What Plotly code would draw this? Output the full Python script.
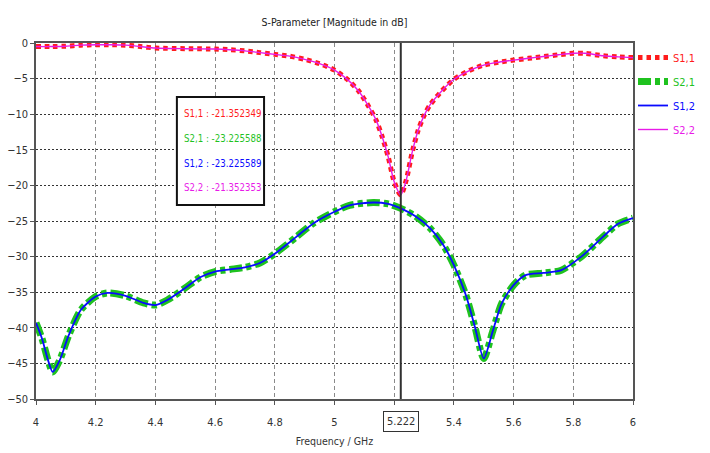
import plotly.graph_objects as go

# ---- data ----
f_s11 = [4.00, 4.05, 4.10, 4.15, 4.20, 4.25, 4.30, 4.35, 4.40, 4.50, 4.60, 4.65, 4.70, 4.75,
         4.80, 4.85, 4.90, 4.95, 5.00, 5.04, 5.08, 5.11, 5.14, 5.16, 5.18, 5.20, 5.222,
         5.24, 5.26, 5.28, 5.30, 5.32, 5.36, 5.40, 5.45, 5.50, 5.55, 5.60, 5.65, 5.70,
         5.75, 5.80, 5.84, 5.90, 5.95, 6.00]
s11_db = [-0.5, -0.5, -0.45, -0.3, -0.25, -0.25, -0.3, -0.5, -0.7, -0.8, -0.85, -0.95, -1.1, -1.35,
          -1.6, -1.85, -2.3, -2.9, -3.8, -5.0, -6.7, -8.6, -10.9, -13.2, -16.0, -19.5, -21.35,
          -19.3, -15.4, -12.3, -10.2, -8.7, -6.7, -5.1, -3.9, -3.1, -2.7, -2.4, -2.15, -1.9,
          -1.65, -1.45, -1.45, -1.8, -1.95, -2.05]
s22_db = s11_db

f_s21 = [4.00, 4.02, 4.04, 4.056, 4.08, 4.11, 4.15, 4.20, 4.24, 4.30, 4.36, 4.40, 4.44, 4.50,
         4.55, 4.60, 4.65, 4.70, 4.75, 4.80, 4.87, 4.93, 5.00, 5.05, 5.13, 5.18, 5.222, 5.27,
         5.32, 5.365, 5.40, 5.44, 5.47, 5.50, 5.53, 5.56, 5.60, 5.64, 5.70, 5.76, 5.83, 5.90,
         5.95, 6.00]
s21_db = [-39.3, -41.5, -44.5, -46.2, -44.5, -41.0, -37.5, -35.6, -35.1, -35.5, -36.5, -36.8, -36.1, -34.4,
          -32.9, -32.1, -31.8, -31.5, -30.9, -29.6, -27.3, -25.3, -23.7, -22.8, -22.4, -22.6, -23.23, -24.3,
          -26.0, -28.4, -31.2, -35.4, -39.8, -44.3, -40.5, -36.6, -34.0, -32.6, -32.3, -31.9, -29.9, -27.2,
          -25.4, -24.6]
s12_db = s21_db

marker_freq = 5.222
marker_labels = ["S1,1", "S2,1", "S1,2", "S2,2"]
marker_values = ["-21.352349", "-23.225588", "-23.225589", "-21.352353"]

x_ticks = [4, 4.2, 4.4, 4.6, 4.8, 5, 5.2, 5.4, 5.6, 5.8, 6]
x_ticktext = ["4", "4.2", "4.4", "4.6", "4.8", "5", "", "5.4", "5.6", "5.8", "6"]
y_ticks = [0, -5, -10, -15, -20, -25, -30, -35, -40, -45, -50]

RED = "#ff1c1c"
GREEN = "#1fc21f"
BLUE = "#0a0aff"
MAGENTA = "#e81ae8"
colors = [RED, GREEN, BLUE, MAGENTA]
FONT = "DejaVu Sans Condensed, DejaVu Sans, sans-serif"

fig = go.Figure()
fig.add_trace(go.Scatter(x=f_s11, y=s11_db, mode="lines", legendgroup="a",
                         name=f'<span style="color:{RED}">S1,1</span>',
                         line=dict(color=RED, width=5, dash="4.5px,4px", shape="spline", smoothing=0.7)))
fig.add_trace(go.Scatter(x=f_s21, y=s21_db, mode="lines", legendgroup="b",
                         name=f'<span style="color:{GREEN}">S2,1</span>',
                         line=dict(color=GREEN, width=7, dash="13px,4px,5px,4px", shape="spline", smoothing=0.7)))
fig.add_trace(go.Scatter(x=f_s21, y=s12_db, mode="lines", legendgroup="c",
                         name=f'<span style="color:{BLUE}">S1,2</span>',
                         line=dict(color=BLUE, width=1.8, shape="spline", smoothing=0.7)))
fig.add_trace(go.Scatter(x=f_s11, y=s22_db, mode="lines", legendgroup="d",
                         name=f'<span style="color:{MAGENTA}">S2,2</span>',
                         line=dict(color=MAGENTA, width=1.4, shape="spline", smoothing=0.7)))

# marker line
fig.add_shape(type="line", xref="x", yref="paper", x0=marker_freq, x1=marker_freq, y0=0, y1=1,
              line=dict(color="#303030", width=2))

# marker value box
fig.add_shape(type="rect", xref="paper", yref="paper", x0=0.236, x1=0.382, y0=0.545, y1=0.848,
              line=dict(color="#111111", width=2), fillcolor="white", layer="above")
ys = [0.8006, 0.7331, 0.6629, 0.5955]
for lab, val, c, yy in zip(marker_labels, marker_values, colors, ys):
    fig.add_annotation(xref="paper", yref="paper", x=0.2446, y=yy, xanchor="left", yanchor="middle",
                       text=f"{lab} : {val}", showarrow=False,
                       font=dict(family=FONT, size=9.6, color=c))

# boxed marker frequency tick label
fig.add_annotation(xref="x", yref="paper", x=marker_freq, y=-0.062, yanchor="middle",
                   text=f"{marker_freq:.3f}", showarrow=False, bgcolor="white",
                   bordercolor="#333333", borderwidth=1, borderpad=3,
                   font=dict(family=FONT, size=11, color="#333333"))

fig.update_layout(
    width=710, height=453,
    margin=dict(l=36, r=77, t=43, b=54, autoexpand=False),
    paper_bgcolor="white", plot_bgcolor="white",
    font=dict(family=FONT, size=11, color="#333333"),
    title=dict(text="S-Parameter [Magnitude in dB]", x=0.5, xref="paper", y=1 - 22 / 453,
               yanchor="middle", font=dict(family=FONT, size=10.5, color="#222222")),
    legend=dict(x=1.0, xanchor="left", y=1.0, yanchor="top", tracegroupgap=5,
                bgcolor="rgba(0,0,0,0)", font=dict(family=FONT, size=11),
                itemwidth=30),
    showlegend=True,
)
fig.update_xaxes(range=[4, 6], tickvals=x_ticks, ticktext=x_ticktext, automargin=False,
                 showgrid=True, gridcolor="#8a8a8a", griddash="4px,3px", gridwidth=1,
                 showline=True, linecolor="#555555", linewidth=1.5, mirror=True,
                 ticks="outside", ticklen=4, tickcolor="#555555", ticklabelstandoff=8,
                 zeroline=False, tickfont=dict(family=FONT, size=11, color="#333333"),
                 title=dict(text="Frequency / GHz", standoff=10,
                            font=dict(family=FONT, size=10.5, color="#333333")))
fig.update_yaxes(range=[-50, 0], tickvals=y_ticks, automargin=False,
                 showgrid=True, gridcolor="#333333", griddash="2px,2px", gridwidth=1,
                 showline=True, linecolor="#555555", linewidth=1.5, mirror=True,
                 ticks="outside", ticklen=4, tickcolor="#555555",
                 zeroline=False, tickfont=dict(family=FONT, size=11, color="#333333"))

fig.write_html("out.html")
